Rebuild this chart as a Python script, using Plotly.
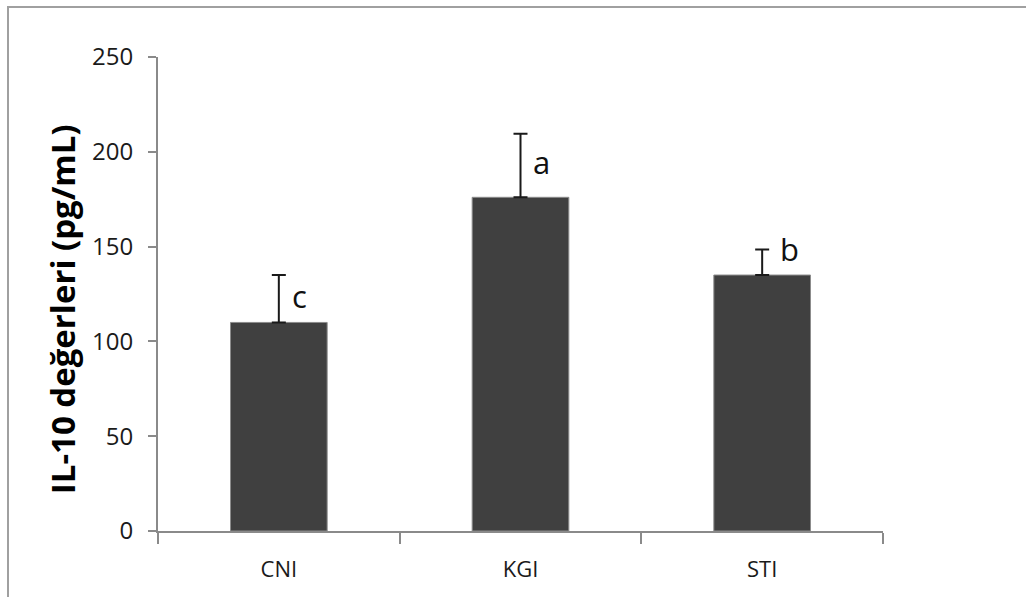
import plotly.graph_objects as go

# Group labels, means, upper error (SD) and significance letters
groups = ["CNI", "KGI", "STI"]
il10_means = [110, 176, 135]
il10_err = [25, 33.5, 13.5]
sig_letters = ["c", "a", "b"]

y_ticks = [0, 50, 100, 150, 200, 250]

AXIS_GREY = "#8a8a8a"
FONT = "Open Sans"

fig = go.Figure()
fig.add_trace(go.Bar(
    x=groups,
    y=il10_means,
    marker=dict(color="#404040", line=dict(color="#8c8c8c", width=1)),
    error_y=dict(type="data", symmetric=False, array=il10_err,
                 arrayminus=[0] * len(il10_err),
                 color="#1a1a1a", thickness=2, width=7),
    showlegend=False,
))

# letter placement: (x shift in px, y offset in data units from error-bar top)
letter_offsets = [(21, -11), (21, -15), (27, 0)]
for g, m, e, lt, (dx, dy) in zip(groups, il10_means, il10_err, sig_letters, letter_offsets):
    fig.add_annotation(x=g, y=m + e + dy, text=lt, showarrow=False,
                       xshift=dx, font=dict(family=FONT, size=31, color="#111111"))

# y-axis title
fig.add_annotation(text="<b>IL-10 değerleri (pg/mL)</b>", textangle=-90,
                   xref="paper", yref="paper", x=-0.1324, y=0.468,
                   xanchor="center", yanchor="middle",
                   showarrow=False, font=dict(family=FONT, size=33, color="#000000"))

# outer chart frame (clipped on the right and bottom)
fig.add_shape(type="rect", xref="paper", yref="paper",
              x0=-0.2069, x1=1.25, y0=-0.2, y1=1.1055,
              line=dict(color="#a0a0a0", width=2))

fig.update_layout(
    width=1026, height=597,
    margin=dict(l=158, r=143, t=57, b=66),
    paper_bgcolor="white", plot_bgcolor="white",
    bargap=0.6,
    font=dict(family=FONT, color="#1a1a1a"),
)
fig.update_xaxes(
    showline=True, linecolor=AXIS_GREY, linewidth=2,
    ticks="outside", tickson="boundaries", ticklen=11, tickwidth=2, tickcolor=AXIS_GREY,
    tickfont=dict(family=FONT, size=22, color="#1a1a1a"),
    ticklabelstandoff=18,
    showgrid=False, zeroline=False,
)
fig.update_yaxes(
    range=[0, 250], tickvals=y_ticks,
    showline=True, linecolor=AXIS_GREY, linewidth=2,
    ticks="outside", ticklen=8, tickwidth=2, tickcolor=AXIS_GREY,
    tickfont=dict(family=FONT, size=24, color="#1a1a1a"),
    ticklabelstandoff=10,
    showgrid=False, zeroline=False,
)

fig.write_html("out.html")
